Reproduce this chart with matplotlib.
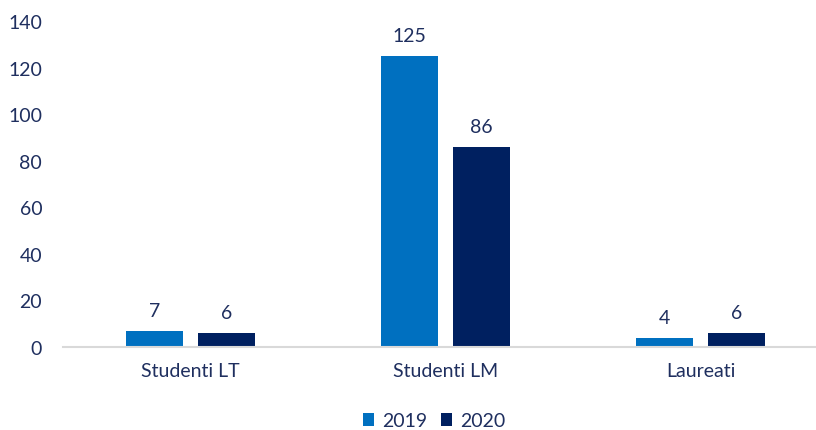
import matplotlib.pyplot as plt
import numpy as np

plt.rcParams['font.family'] = ['Lato', 'DejaVu Sans']

categories = ['Studenti LT', 'Studenti LM', 'Laureati']
years = ['2019', '2020']
v2019 = [7, 125, 4]
v2020 = [6, 86, 6]
colors = ['#0070C0', '#002060']
txt = '#1F2F5F'

fig = plt.figure(figsize=(8.16, 4.31), dpi=100)
ax = fig.add_axes([63 / 816, 83 / 431, 753 / 816, 326 / 431])

x = np.arange(len(categories))
w = 57 / 255
off = 36 / 255
for vals, c, lab, dx in zip([v2019, v2020], colors, years, [-off, off]):
    bars = ax.bar(x + dx, vals, w, color=c, label=lab)
    for b, v in zip(bars, vals):
        ax.text(b.get_x() + b.get_width() / 2, v + 5, str(v), ha='center', va='bottom',
                fontsize=14, color=txt)

ax.set_xlim(-0.5, 2.453)
ax.set_ylim(0, 140)
ax.set_yticks(range(0, 141, 20))
ax.set_xticks(x)
ax.set_xticklabels(categories)
ax.tick_params(axis='both', length=0, labelsize=14, labelcolor=txt)
ax.tick_params(axis='y', pad=15)
ax.tick_params(axis='x', pad=11)
for s in ['top', 'right', 'left']:
    ax.spines[s].set_visible(False)
ax.spines['bottom'].set_color('#D9D9D9')
ax.spines['bottom'].set_linewidth(1.5)

fig.legend(loc='center', bbox_to_anchor=(434 / 816, 9 / 431), ncol=2, frameon=False,
           fontsize=14, labelcolor=txt, handlelength=0.6, handleheight=0.6,
           handletextpad=0.4, columnspacing=0.7)

fig.savefig('out.png', dpi=100)
